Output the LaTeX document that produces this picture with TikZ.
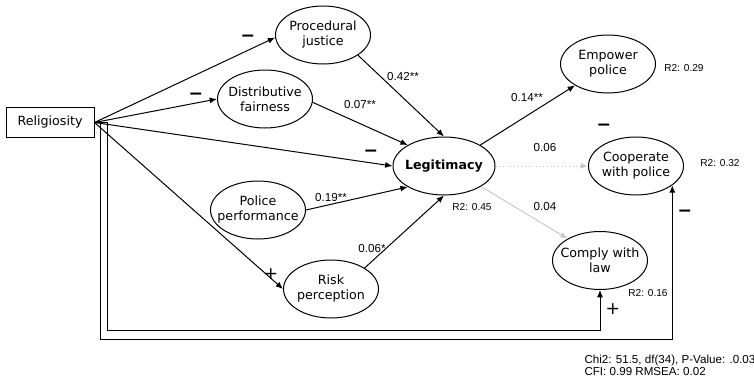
\documentclass[tikz,border=0pt]{standalone}
\usepackage{fontspec}
\setmainfont{DejaVu Sans}
\newfontfamily\arialfont{Liberation Sans}
\usetikzlibrary{arrows.meta,shapes.geometric}

\tikzset{every picture/.style={line width=0.75pt}}
\tikzset{
	latent/.style={draw, ellipse, minimum width=71.25pt, minimum height=43.5pt, inner xsep=-8pt, inner ysep=0pt, align=center, font=\fontsize{9.5}{11.25}\selectfont},
	observed/.style={draw, rectangle, minimum width=66pt, minimum height=22.5pt, inner sep=0.75pt, font=\fontsize{9.5}{11.25}\selectfont},
	coef/.style={inner sep=0.75pt, font=\arialfont\fontsize{8.7}{10}\selectfont},
	rsq/.style={inner sep=0.75pt, font=\arialfont\fontsize{7.6}{9}\selectfont},
	sgn/.style={inner sep=0.75pt, font=\fontsize{13}{13}\selectfont},
	arr/.style={-{Latex[length=5.5pt,width=4.5pt]}},
	weak/.style={arr, draw={rgb,255:red,200;green,200;blue,200}},
}

\begin{document}
\begin{tikzpicture}[x=0.75pt,y=0.75pt,yscale=-1,xscale=1]
	\useasboundingbox (0,0) rectangle (754,382);
	
	%Shape: Rectangle
	\draw (50,122.5) node [observed] (rel) {Religiosity};
	%Shape: Ellipse
	\draw (323,35) node [latent] (proc) {Procedural\\justice};
	%Shape: Ellipse
	\draw (265,99) node [latent] (dist) {Distributive\\fairness};
	%Shape: Ellipse
	\draw (258,210) node [latent] (perf) {Police\\performance};
	%Shape: Ellipse
	\draw (331,289) node [latent] (risk) {Risk\\perception};
	%Shape: Ellipse
	\draw (444,166) node [latent, minimum width=76.5pt] (legit) {\bfseries Legitimacy};
	%Shape: Ellipse
	\draw (608,64) node [latent] (emp) {Empower\\police};
	%Shape: Ellipse
	\draw (636,166) node [latent] (coop) {Cooperate\\with police};
	%Shape: Ellipse
	\draw (600,260.5) node [latent] (comply) {Comply with\\law};
	
	%Straight Lines
	\draw [arr] (rel.east) -- (proc.183);
	\draw [arr] (rel.east) -- (dist.west);
	\draw [arr] (rel.east) -- (legit.west);
	\draw [arr] (rel.east) -- (risk.west);
	\draw [arr] (proc.-30) -- (legit.north);
	\draw [arr] (dist.-4) -- (legit.150);
	\draw [arr] (perf.east) -- (legit.210);
	\draw [arr] (risk.32) -- (legit.south);
	\draw [arr] (legit.30) -- (emp.213);
	\draw [weak, dotted] (legit.east) -- (coop.west);
	\draw [weak] (legit.-29) -- (comply.146);
	%Elbow lines
	\draw [arr] (rel.east) -- ++(13,0) -- ++(0,207.5) -| (comply.south);
	\draw [arr] (rel.east) -- ++(6,0) -- ++(0,216.5) -| (coop.-28);
	
	% Text Node
	\draw (403,77) node [coef] (c1) {0.42**};
	% Text Node
	\draw (360,105) node [coef] (c2) {0.07**};
	% Text Node
	\draw (331,198) node [coef] (c3) {0.19**};
	% Text Node
	\draw (372,249) node [coef] (c4) {0.06*};
	% Text Node
	\draw (527,98) node [coef] (c5) {0.14**};
	% Text Node
	\draw (545,148) node [coef] (c6) {0.06};
	% Text Node
	\draw (545,207) node [coef] (c7) {0.04};
	% Text Node
	\draw (472,207) node [rsq] (r1) {R2: 0.45};
	% Text Node
	\draw (684,68) node [rsq] (r2) {R2: 0.29};
	% Text Node
	\draw (720,163) node [rsq] (r3) {R2: 0.32};
	% Text Node
	\draw (648,293) node [rsq] (r4) {R2: 0.16};
	% Text Node
	\draw (583,354) node [coef, anchor=north west, align=left, font=\arialfont\fontsize{8.7}{8.8}\selectfont] (fit) {Chi2: 51.5, df(34), P-Value: .0.03\\CFI: 0.99 RMSEA: 0.02};
	
	% Signs
	\draw (248,38) node [sgn] (s1) {\bfseries −};
	\draw (196,96) node [sgn] (s2) {\bfseries −};
	\draw (371,153) node [sgn] (s3) {\bfseries −};
	\draw (604,127) node [sgn] (s4) {\bfseries −};
	\draw (685,213) node [sgn] (s5) {\bfseries −};
	\draw (271,274) node [sgn] (s6) {+};
	\draw (613,309) node [sgn] (s7) {+};
	
\end{tikzpicture}
\end{document}
